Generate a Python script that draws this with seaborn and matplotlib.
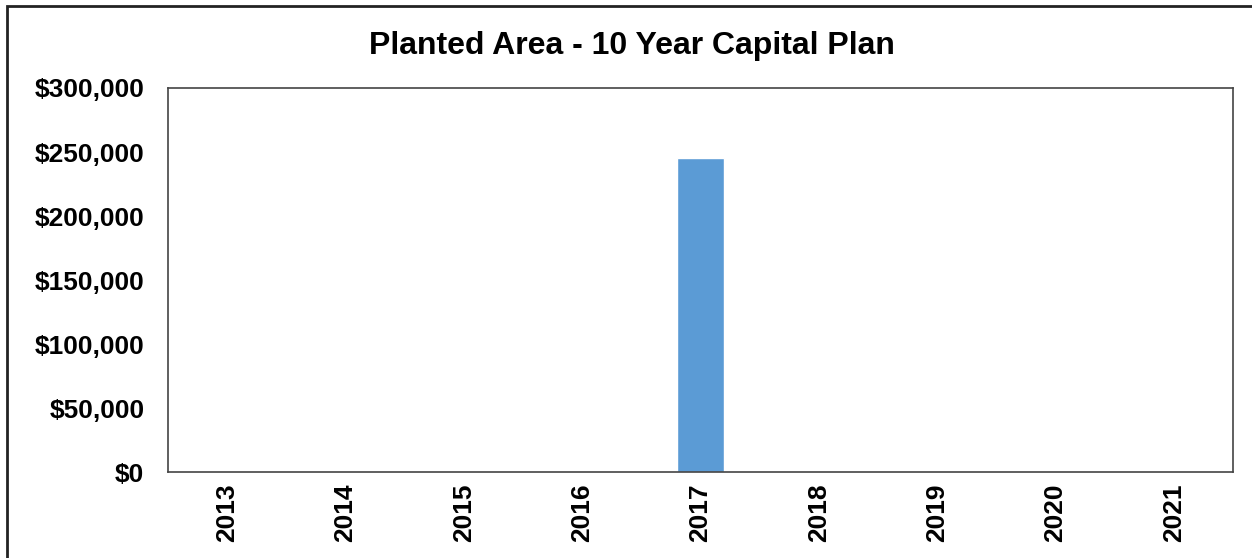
import matplotlib
matplotlib.use("Agg")
import matplotlib.pyplot as plt
from matplotlib.patches import Rectangle
from matplotlib.ticker import FuncFormatter
import seaborn as sns
import pandas as pd

years = ["2013", "2014", "2015", "2016", "2017", "2018", "2019", "2020", "2021"]
costs = [0, 0, 0, 0, 245000, 0, 0, 0, 0]
y_ticks = [0, 50000, 100000, 150000, 200000, 250000, 300000]
title = "Planted Area - 10 Year Capital Plan"

sns.set_theme(style="white")
plt.rcParams["font.family"] = ["Liberation Sans", "DejaVu Sans"]
plt.rcParams["text.color"] = "black"
plt.rcParams["xtick.color"] = "black"
plt.rcParams["ytick.color"] = "black"

df = pd.DataFrame({"year": years, "cost": costs})

W, H = 1252, 558
fig = plt.figure(figsize=(W / 100, H / 100), dpi=100)
ax = fig.add_axes([168 / W, 1 - 472 / H, (1233 - 168) / W, (472 - 88) / H])

sns.barplot(data=df, x="year", y="cost", color="#5B9BD5", saturation=1,
            width=0.4, ax=ax)

ax.set_ylim(0, 300000)
ax.set_yticks(y_ticks)
ax.yaxis.set_major_formatter(FuncFormatter(lambda v, p: f"${v:,.0f}"))
ax.set_xlim(-0.5, len(years) - 0.5)
ax.set_xlabel("")
ax.set_ylabel("")
ax.tick_params(axis="both", length=0)
ax.tick_params(axis="y", labelsize=19, pad=17)
ax.tick_params(axis="x", labelsize=19, pad=8, labelrotation=90)
for lbl in ax.get_xticklabels() + ax.get_yticklabels():
    lbl.set_fontweight("bold")
for s in ax.spines.values():
    s.set_visible(True)
    s.set_color("#444444")
    s.set_linewidth(1.2)

fig.text(0.505, 1 - 46 / H, title, ha="center", va="center",
         fontsize=23, fontweight="bold")

# outer chart border (open on the right and bottom edges)
fig.patches.append(Rectangle((7 / W, -0.1), 1.2, 1 - 6 / H + 0.1,
                             transform=fig.transFigure, fill=False,
                             edgecolor="#222222", linewidth=2))

fig.savefig("out.png", dpi=100)
